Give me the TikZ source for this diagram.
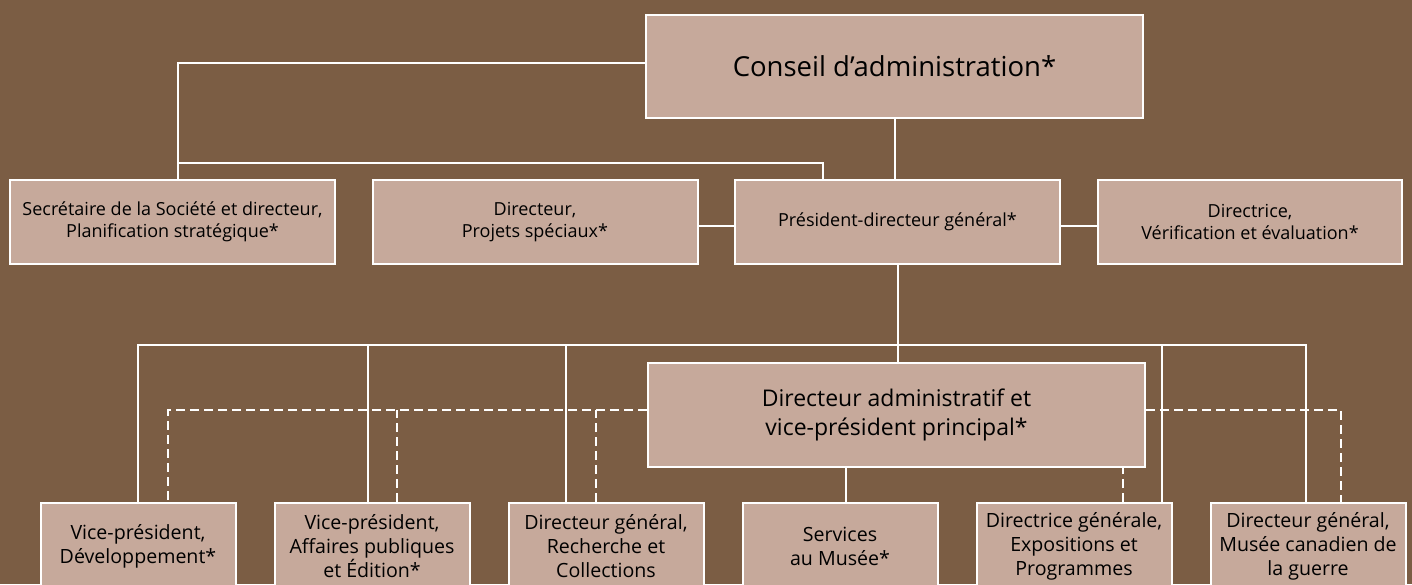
\documentclass[tikz,border=0pt]{standalone}
\usepackage{fontspec}
\setmainfont{Open Sans}
\definecolor{bgbrown}{HTML}{7B5D44}
\definecolor{boxrose}{HTML}{C6A99B}

\begin{document}
\begin{tikzpicture}[x=1pt,y=-1pt,
    post/.style={draw=white, line width=2pt, fill=boxrose, text=black, align=center,
      inner sep=0pt, font=\fontsize{18}{22.5}\selectfont},
    mid/.style={post, minimum width=325pt, minimum height=84pt},
    low/.style={post, minimum width=195pt, minimum height=86pt, font=\fontsize{19.6}{24}\selectfont},
    link/.style={draw=white, line width=2pt},
    dashlink/.style={link, dash pattern=on 9pt off 5pt}]
  \useasboundingbox (0,0) rectangle (1412,584);
  \clip (0,0) rectangle (1412,584);
  \fill[bgbrown] (0,0) rectangle (1412,584);

  % boxes
  \node[post, minimum width=497pt, minimum height=103pt, font=\fontsize{27.5}{30}\selectfont]
    (conseil) at (894.5,66.5) {Conseil d’administration*};
  \node[mid] (sec) at (172.5,222) {Secrétaire de la Société et directeur,\\Planification stratégique*};
  \node[mid] (proj) at (535,222) {Directeur,\\Projets spéciaux*};
  \node[mid] (pdg) at (897.5,222) {Président-directeur général*};
  \node[mid, minimum width=304pt] (verif) at (1250,222) {Directrice,\\Vérification et évaluation*};
  \node[post, minimum width=497pt, minimum height=104pt, font=\fontsize{23}{29}\selectfont]
    (dga) at (896.5,415) {Directeur administratif et\\vice-président principal*};
  \foreach \n/\txt [count=\i from 0] in {
      b1/{Vice-président,\\Développement*},
      b2/{Vice-président,\\Affaires publiques\\et Édition*},
      b3/{Directeur général,\\Recherche et\\Collections},
      b4/{Services\\au Musée*},
      b5/{Directrice générale,\\Expositions et\\Programmes},
      b6/{Directeur général,\\Musée canadien de\\la guerre}}
    \node[low] (\n) at ({138+234*\i},546) {\txt};

  % solid lines
  \path ([xshift=5.5pt]sec.north) coordinate (s1)
        ([xshift=-74.5pt]pdg.north) coordinate (s2);
  \draw[link] (s1) |- ([yshift=3.5pt]conseil.west);
  \draw[link] (s1 |- 0,163) -| (s2);
  \draw[link] (conseil.south) -- (conseil.south |- pdg.north);
  \draw[link] ([yshift=-4pt]proj.east) -- ([yshift=-4pt]pdg.west);
  \draw[link] ([yshift=-4pt]pdg.east) -- ([yshift=-4pt]verif.west);
  \draw[link] (pdg.south) -- (pdg.south |- dga.north);
  \coordinate (bus) at (896,345);
  \draw[link] (b1.north) |- (bus);
  \draw[link] ([xshift=-4pt]b2.north) |- (bus);
  \draw[link] ([xshift=-40pt]b3.north) |- (bus);
  \draw[link] ([xshift=88pt]b5.north) |- (bus);
  \draw[link] ([xshift=-2pt]b6.north) |- (bus);
  \path ([xshift=6pt]b4.north) coordinate (s4);
  \draw[link] (s4) -- (s4 |- dga.south);

  % dashed lines
  \coordinate (dl) at ([yshift=5pt]dga.west);
  \coordinate (dr) at ([yshift=5pt]dga.east);
  \path ([xshift=25pt]b2.north) coordinate (d2)
        ([xshift=-10pt]b3.north) coordinate (d3)
        ([xshift=49pt]b5.north) coordinate (d5);
  \draw[dashlink] (dl) -| ([xshift=30pt]b1.north);
  \draw[dashlink] (dr) -| ([xshift=33pt]b6.north);
  \draw[dashlink] (d2) -- (d2 |- dl);
  \draw[dashlink] (d3) -- (d3 |- dl);
  \draw[dashlink] (d5) -- (d5 |- dga.south);
\end{tikzpicture}
\end{document}
